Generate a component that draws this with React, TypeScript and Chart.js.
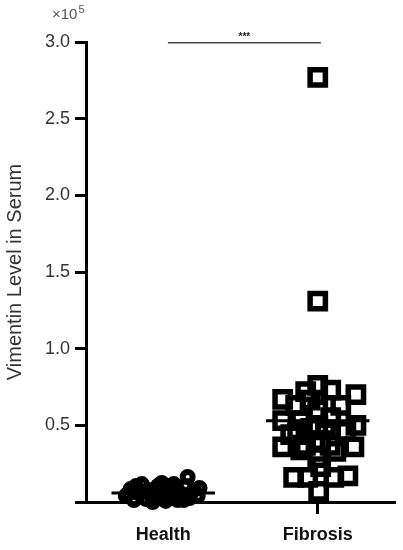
import React, { useEffect, useRef } from "react";
import { Chart, registerables } from "chart.js";
Chart.register(...registerables);

// ---- data (values in units of 10^5) ----
const categories = ["Health", "Fibrosis"];
const yTickValues = [0, 0.5, 1.0, 1.5, 2.0, 2.5, 3.0];
const yTitle = "Vimentin Level in Serum";
const exponentBase = "×10";
const exponentPower = "5";

const healthValues = [0.039, 0.085, 0.013, 0.059, 0.117, 0.02, 0.078, 0.0, 0.046, 0.104, 0.124, 0.065, 0.007, 0.104, 0.039, 0.078, 0.013, 0.052, 0.104, 0.163, 0.026, 0.078, 0.039, 0.091, 0.104, 0.052, 0.065, 0.026, 0.117, 0.013];
const healthJitter = [-0.242, -0.21, -0.19, -0.165, -0.139, -0.113, -0.094, -0.068, -0.055, -0.035, -0.01, -0.003, 0.016, 0.035, 0.055, 0.081, 0.094, 0.119, 0.145, 0.158, 0.171, 0.197, 0.223, 0.235, -0.177, -0.229, -0.126, -0.023, 0.068, 0.132];

const fibrosisValues = [2.77, 1.31, 0.76, 0.72, 0.73, 0.67, 0.7, 0.63, 0.63, 0.6, 0.53, 0.5, 0.53, 0.55, 0.48, 0.46, 0.44, 0.4, 0.36, 0.36, 0.34, 0.33, 0.29, 0.16, 0.16, 0.23, 0.16, 0.17, 0.07, 0.665, 0.47, 0.37, 0.37, 0.5, 0.47];
const fibrosisJitter = [0, 0, 0, -0.078, 0.084, -0.227, 0.247, -0.143, 0.149, 0, -0.227, 0.247, -0.11, 0.084, -0.045, 0.182, -0.175, 0.019, -0.227, 0.234, -0.11, 0.117, 0, -0.156, -0.065, 0.019, 0.104, 0.195, 0.006, -0.05, 0.05, -0.08, 0.08, 0, -0.13];

const groupMeans = [0.059, 0.53];
const meanHalfWidth = 0.335;

const sigFrom = 1.03;
const sigTo = 2.02;
const sigLevel = 2.995;
const sigLabel = "***";

const FONT = "Arial, 'Liberation Sans', sans-serif";

const textPlugin = {
  id: "extraText",
  afterDraw(chart: any) {
    const ctx = chart.ctx;
    const x = chart.scales.x;
    const y = chart.scales.y;
    ctx.save();
    ctx.fillStyle = "#555";
    ctx.textBaseline = "alphabetic";
    ctx.textAlign = "left";
    ctx.font = `15px ${FONT}`;
    const baseX = chart.chartArea.left - 34;
    const baseY = chart.chartArea.top - 23;
    ctx.fillText(exponentBase, baseX, baseY);
    const w = ctx.measureText(exponentBase).width;
    ctx.font = `11px ${FONT}`;
    ctx.fillText(exponentPower, baseX + w + 1, baseY - 6);
    ctx.fillStyle = "#222";
    ctx.font = `bold 10px ${FONT}`;
    ctx.textAlign = "center";
    ctx.fillText(sigLabel, x.getPixelForValue((sigFrom + sigTo) / 2), y.getPixelForValue(sigLevel) - 3);
    ctx.restore();
  },
};

export default function App() {
  const ref = useRef<HTMLCanvasElement>(null);
  useEffect(() => {
    const healthData = healthValues.map((v, i) => ({ x: 1 + healthJitter[i], y: v }));
    const fibrosisData = fibrosisValues.map((v, i) => ({ x: 2 + fibrosisJitter[i], y: v }));
    const meanSets = groupMeans.map((m, i) => ({
      type: "line" as const,
      data: [
        { x: i + 1 - meanHalfWidth, y: m },
        { x: i + 1 + meanHalfWidth, y: m },
      ],
      borderColor: "#000",
      borderWidth: 3,
      pointRadius: 0,
      showLine: true,
      fill: false,
    }));
    const chart = new Chart(ref.current!, {
      type: "scatter",
      data: {
        datasets: [
          {
            data: healthData,
            pointStyle: "circle",
            pointRadius: 5,
            pointBorderWidth: 6,
            pointBorderColor: "#000",
            pointBackgroundColor: "rgba(0,0,0,0)",
            clip: false,
          },
          {
            data: fibrosisData,
            pointStyle: "rect",
            pointRadius: 10.8,
            pointBorderWidth: 5.5,
            pointBorderColor: "#000",
            pointBackgroundColor: "rgba(0,0,0,0)",
            clip: false,
          },
          ...meanSets,
          {
            type: "line",
            data: [
              { x: sigFrom, y: sigLevel },
              { x: sigTo, y: sigLevel },
            ],
            borderColor: "#444",
            borderWidth: 1.5,
            pointRadius: 0,
            showLine: true,
            clip: false,
          } as any,
        ] as any,
      },
      options: {
        animation: false,
        responsive: false,
        events: [],
        layout: { autoPadding: false, padding: { top: 42, right: 8, left: 0, bottom: 0 } },
        plugins: { legend: { display: false }, tooltip: { enabled: false } },
        scales: {
          x: {
            type: "linear",
            min: 0.5,
            max: 2.5,
            afterBuildTicks: (s: any) => {
              s.ticks = categories.map((_, i) => ({ value: i + 1 }));
            },
            afterFit: (s: any) => {
              s.height = 48;
              s.paddingLeft = 0;
              s.paddingRight = 0;
            },
            ticks: {
              callback: (v: any) => categories[Math.round(v) - 1] ?? "",
              font: { family: FONT, size: 18, weight: "bold" },
              color: "#111",
              padding: 10,
              maxRotation: 0,
            },
            grid: {
              drawOnChartArea: false,
              drawTicks: true,
              tickLength: 12,
              tickWidth: 3,
              tickColor: (c: any) => (c.tick && c.tick.value === 2 ? "#000" : "rgba(0,0,0,0)"),
            },
            border: { display: true, color: "#000", width: 3 },
          },
          y: {
            type: "linear",
            min: 0,
            max: 3,
            afterBuildTicks: (s: any) => {
              s.ticks = yTickValues.map((v) => ({ value: v }));
            },
            afterFit: (s: any) => {
              s.width = 86;
            },
            ticks: {
              callback: (v: any) => (v === 0 ? "" : Number(v).toFixed(1)),
              font: { family: FONT, size: 18 },
              color: "#333",
              padding: 5,
            },
            grid: {
              drawOnChartArea: false,
              drawTicks: true,
              tickLength: 11,
              tickWidth: 3,
              tickColor: "#000",
            },
            border: { display: true, color: "#000", width: 3 },
            title: {
              display: true,
              text: yTitle,
              font: { family: FONT, size: 20 },
              color: "#333",
              padding: { top: 3, bottom: 4 },
            },
          },
        },
      },
      plugins: [textPlugin],
    } as any);
    return () => chart.destroy();
  }, []);
  return (
    <div style={{ position: "absolute", left: 0, top: 0, width: 403, height: 550, background: "#fff" }}>
      <canvas ref={ref} width={403} height={550} />
    </div>
  );
}
